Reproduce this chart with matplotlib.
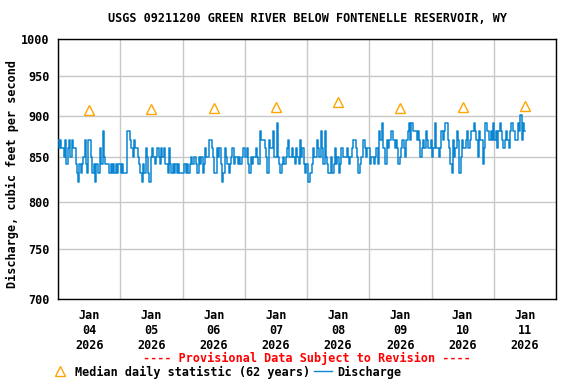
import matplotlib
matplotlib.use("Agg")
import matplotlib.pyplot as plt
import matplotlib.dates as mdates
from matplotlib.lines import Line2D
from matplotlib.ticker import NullLocator, FixedLocator, FixedFormatter
from datetime import datetime, timedelta

# ---- data (30-minute discharge values, cfs) ----
day1 = [871,861,871, 861,861,851, 871,842,861, 871,851,871,861, 861,842, 832,822,
        842,832,842, 851,871, 842,832, 871,871, 851,832,842,822, 842,832,832, 861,842,
        881,851, 842,842, 842,832,842,832,842,832, 842,832,842]
day2 = [842,832,842,832,832,832, 881,881, 871,861,851,871,861, 861,851, 842,832,822,842,832,
        861,851, 832,822, 851,861,851,842,851,861,851,842, 861,851,861,842,
        842,832,861,842,832,842,832,842,832,842,832,832]
day3 = [832,832,842,832, 842,832,842, 851,842,851,851, 842,832, 851,842,851, 832,842,
        861,851,851, 871,871, 861,851, 832,832, 861,851,861, 842,822,832, 861,851,
        842,832,842, 851,861,842,851, 851,842,851,842,851,861]
day4 = [861,851,861, 842,832, 851,842,851,851, 861,851,842, 881,871,871, 871,861, 851,832,
        871,861,861, 881,851, 851,891,851, 842,832,842, 851,842,851, 861,871,851,
        851,861,851,842,861,851,842, 871,851,861,842, 832]
day5 = [842,822,822, 832,842, 861,851,851, 871,861, 851,881, 861,842, 881,851, 842,832,832,
        851,832,842, 861,842, 851,832,842, 861,851,851, 851,861,851,842,851,861,
        871,871, 861,851, 832,842, 851,851, 871,861,851,861]
day6 = [861,842,851, 851,842,851, 861,842, 881,871, 891,861, 861,842, 871,861,871, 881,881,
        871,861,871, 861,842,851, 861,871,861,851,871, 881,891,871, 891,881,881,
        881,871,881, 871,851,861, 871,861,881,871,861, 861]
day7 = [871,851,861, 891,861, 861,851,861, 881,871,881, 891,891, 871,861, 842,832,
        871,851,861, 881,871, 832,851, 871,861,861, 871,881,861,871,881, 881,891,881,
        871,851, 881,871,871, 842,861, 891,881,881, 871,881,871]
day8 = [891,871,881, 861,881, 891,881, 871,861, 871,881,871,861,881, 891,881,
        881,871,871, 891,881, 901,871, 891,881]

median_days = ["2026-01-04", "2026-01-05", "2026-01-06", "2026-01-07",
               "2026-01-08", "2026-01-09", "2026-01-10", "2026-01-11"]
median_vals = [907, 908, 910, 911, 917, 910, 911, 912]

y_ticks = [700, 750, 800, 850, 900, 950, 1000]
tick_labels = ["Jan\n04\n2026", "Jan\n05\n2026", "Jan\n06\n2026", "Jan\n07\n2026",
               "Jan\n08\n2026", "Jan\n09\n2026", "Jan\n10\n2026", "Jan\n11\n2026"]

# ---- build series ----
discharge = day1 + day2 + day3 + day4 + day5 + day6 + day7 + day8
start = datetime(2026, 1, 4)
times = [start + timedelta(minutes=30 * i) for i in range(len(discharge))]
median_times = [datetime.strptime(d, "%Y-%m-%d") + timedelta(hours=12) for d in median_days]

FONT = "DejaVu Sans Mono"
FS = 8.5
LINE_C = "#0A85D2"
TRI_C = "#FFA500"

fig = plt.figure(figsize=(5.76, 3.84), dpi=100)
ax = fig.add_axes([58 / 576, 1 - 299 / 384, 498 / 576, 260 / 384])

ax.plot(times, discharge, color=LINE_C, lw=1.1, drawstyle="steps-mid", zorder=3)
ax.plot(median_times, median_vals, ls="none", marker="^", ms=7.5, mfc="none",
        mec=TRI_C, mew=1.0, zorder=4)

ax.set_yscale("log")
ax.set_ylim(700, 1000)
ax.yaxis.set_major_locator(FixedLocator(y_ticks))
ax.yaxis.set_major_formatter(FixedFormatter([str(v) for v in y_ticks]))
ax.yaxis.set_minor_locator(NullLocator())

ax.set_xlim(start, start + timedelta(days=8))
ax.xaxis.set_major_locator(mdates.DayLocator())
ax.xaxis.set_major_formatter(plt.NullFormatter())
ax.xaxis.set_minor_locator(FixedLocator(mdates.date2num(median_times)))
ax.xaxis.set_minor_formatter(FixedFormatter(tick_labels))

ax.grid(True, which="major", color="#C8C8C8", lw=1.0)
ax.set_axisbelow(True)
ax.tick_params(axis="both", which="both", length=0)
ax.tick_params(axis="y", pad=6)
ax.tick_params(axis="x", which="minor", pad=7)
for lab in ax.get_yticklabels() + ax.xaxis.get_minorticklabels():
    lab.set_fontfamily(FONT)
    lab.set_fontsize(FS)
    lab.set_fontweight("bold")
for sp in ax.spines.values():
    sp.set_color("black")
    sp.set_linewidth(1.0)

fig.text(307 / 576, 1 - 19 / 384, "USGS 09211200 GREEN RIVER BELOW FONTENELLE RESERVOIR, WY",
         ha="center", va="center", family=FONT, fontsize=FS, weight="bold")
fig.text(12 / 576, 1 - 174 / 384, "Discharge, cubic feet per second", rotation=90,
         ha="center", va="center", family=FONT, fontsize=FS, weight="bold")
fig.text(307 / 576, 1 - 358 / 384, "---- Provisional Data Subject to Revision ----",
         ha="center", va="center", family=FONT, fontsize=FS, weight="bold", color="red")

# legend row
fig.add_artist(Line2D([60 / 576], [1 - 371 / 384], transform=fig.transFigure, ls="none",
                      marker="^", ms=7.5, mfc="none", mec=TRI_C, mew=1.0))
fig.text(75 / 576, 1 - 372 / 384, "Median daily statistic (62 years)",
         ha="left", va="center", family=FONT, fontsize=FS, weight="bold")
fig.add_artist(Line2D([314 / 576, 332 / 576], [1 - 371 / 384, 1 - 371 / 384],
                      transform=fig.transFigure, color=LINE_C, lw=1.0))
fig.text(337 / 576, 1 - 372 / 384, "Discharge",
         ha="left", va="center", family=FONT, fontsize=FS, weight="bold")

fig.savefig("out.png", dpi=100)
